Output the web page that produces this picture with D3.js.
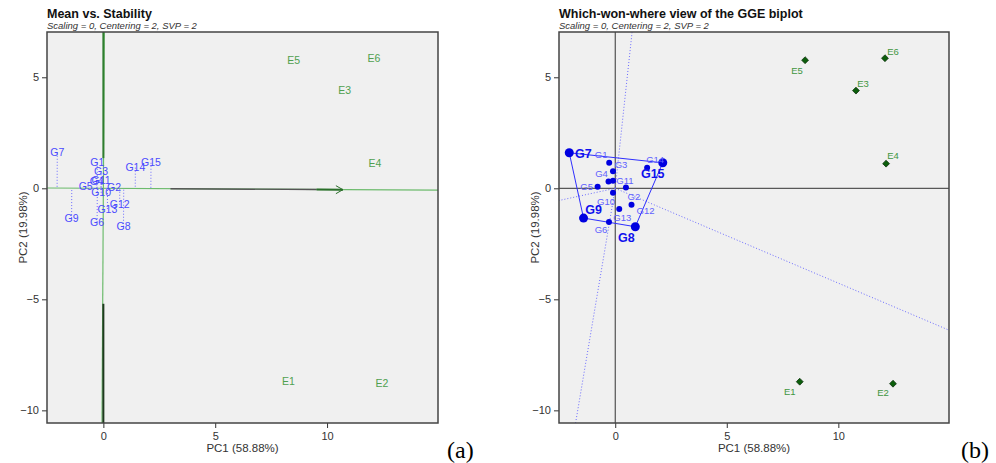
<!DOCTYPE html>
<html>
<head>
<meta charset="utf-8">
<script src="https://cdn.jsdelivr.net/npm/d3@7/dist/d3.min.js"></script>
<style>
body { margin: 0; background: #fff; }
svg text { font-family: "Liberation Sans", Arial, sans-serif; }
</style>
</head>
<body>
<svg id="fig" width="996" height="463"></svg>
<script>
// genotype scores (PC1, PC2)
const genotypes = ['G1','G2','G3','G4','G5','G6','G7','G8','G9','G10','G11','G12','G13','G14','G15'];
const genoPC1 = [-0.27, 0.48, -0.10, -0.30, -0.79, -0.28, -2.06, 0.90, -1.42, -0.10, -0.10, 0.73, 0.18, 1.43, 2.13];
const genoPC2 = [1.15, 0.04, 0.77, 0.31, 0.07, -1.52, 1.60, -1.73, -1.34, -0.20, 0.34, -0.74, -0.93, 0.93, 1.15];

// environment scores (PC1, PC2)
const environments = ['E1','E2','E3','E4','E5','E6'];
const envPC1 = [8.27, 12.45, 10.79, 12.14, 8.51, 12.09];
const envPC2 = [-8.71, -8.80, 4.40, 1.11, 5.77, 5.86];

// vertex genotypes of the which-won-where polygon
const polygonGenotypes = ['G7','G15','G8','G9'];

const xTicks = [0, 5, 10];
const yTicks = [5, 0, -5, -10];
const xDomain = [-2.52, 14.96];
const yDomain = [-10.57, 7.04];

const titles = ['Mean vs. Stability', 'Which-won-where view of the GGE biplot'];
const subtitle = 'Scaling = 0, Centering = 2, SVP = 2';
const xLabel = 'PC1 (58.88%)';
const yLabel = 'PC2 (19.98%)';
const panelTags = ['(a)', '(b)'];

// label placement in panel (b), offsets in px from the point
const genoLabelOffset = {
  G1:[-8,-8], G2:[8,9], G3:[8,-7], G4:[-7,-8], G5:[-11,0], G6:[-8,8], G10:[-7,9],
  G11:[12,0], G12:[14,6], G13:[3,9], G14:[8,-8],
  G7:[14,1], G15:[-10,11], G8:[-9,11], G9:[10,-8]
};
const envLabelOffset = { E1:[-10,10], E2:[-10,9], E3:[7,-7], E4:[7,-8], E5:[-8,10], E6:[8,-7] };

const geno = genotypes.map((g, i) => ({name: g, x: genoPC1[i], y: genoPC2[i]}));
const env = environments.map((e, i) => ({name: e, x: envPC1[i], y: envPC2[i]}));

const svg = d3.select('#fig');

const panels = [
  {left: 47, right: 438, tagX: 447},
  {left: 559, right: 949, tagX: 961}
];
const plotTop = 32, plotBottom = 423;

function drawFrame(p, i) {
  const g = svg.append('g');
  const x = d3.scaleLinear().domain(xDomain).range([p.left, p.right]);
  const y = d3.scaleLinear().domain(yDomain).range([plotBottom, plotTop]);

  g.append('rect')
    .attr('x', p.left).attr('y', plotTop)
    .attr('width', p.right - p.left).attr('height', plotBottom - plotTop)
    .attr('fill', '#f0f0f0');

  svg.append('clipPath').attr('id', 'clip' + i)
    .append('rect')
    .attr('x', p.left).attr('y', plotTop)
    .attr('width', p.right - p.left).attr('height', plotBottom - plotTop);

  const xa = g.append('g')
    .attr('transform', `translate(0,${plotBottom})`)
    .call(d3.axisBottom(x).tickValues(xTicks).tickSize(5).tickSizeOuter(0).tickPadding(4));
  const ya = g.append('g')
    .attr('transform', `translate(${p.left},0)`)
    .call(d3.axisLeft(y).tickValues(yTicks).tickSize(5).tickSizeOuter(0).tickPadding(3));
  [xa, ya].forEach(a => {
    a.select('.domain').remove();
    a.selectAll('line').attr('stroke', '#333');
    a.selectAll('text').attr('font-size', 11).attr('fill', '#333')
      .attr('font-family', '"Liberation Sans", Arial, sans-serif');
  });

  g.append('text')
    .attr('x', p.left).attr('y', 18)
    .attr('font-size', 12.5).attr('font-weight', 'bold').attr('fill', '#111')
    .text(titles[i]);
  g.append('text')
    .attr('x', p.left).attr('y', 29)
    .attr('font-size', 9.5).attr('font-style', 'italic').attr('fill', '#333')
    .text(subtitle);

  g.append('text')
    .attr('x', (p.left + p.right) / 2).attr('y', 452)
    .attr('text-anchor', 'middle').attr('font-size', 11.5).attr('fill', '#333')
    .text(xLabel);
  g.append('text')
    .attr('transform', `translate(${p.left - 20},${(plotTop + plotBottom) / 2}) rotate(-90)`)
    .attr('text-anchor', 'middle').attr('font-size', 11.5).attr('fill', '#333')
    .text(yLabel);

  g.append('text')
    .attr('x', p.tagX).attr('y', 458)
    .attr('font-size', 24).attr('fill', '#000')
    .style('font-family', '"Liberation Serif", "Times New Roman", serif')
    .text(panelTags[i]);

  const plot = g.append('g').attr('clip-path', `url(#clip${i})`);
  return {g, plot, x, y};
}

// ---------- (a) Mean vs. Stability ----------
{
  const {g, plot, x, y} = drawFrame(panels[0], 0);
  const mx = d3.mean(env, d => d.x), my = d3.mean(env, d => d.y);
  const m2 = mx * mx + my * my;
  const far = 100;

  // ATE abscissa and ordinate
  plot.append('line')
    .attr('x1', x(-far * mx)).attr('y1', y(-far * my))
    .attr('x2', x(far * mx)).attr('y2', y(far * my))
    .attr('stroke', '#6dbb6d').attr('stroke-width', 1.2);
  plot.append('line')
    .attr('x1', x(-far * my)).attr('y1', y(far * mx))
    .attr('x2', x(far * my)).attr('y2', y(-far * mx))
    .attr('stroke', '#6dbb6d').attr('stroke-width', 1.2);

  // darker parts of the ordinate
  plot.append('line')
    .attr('x1', x(0)).attr('y1', y(yDomain[1]))
    .attr('x2', x(0)).attr('y2', y(1.36))
    .attr('stroke', '#2f7d2f').attr('stroke-width', 2);
  plot.append('line')
    .attr('x1', x(0)).attr('y1', y(-5.2))
    .attr('x2', x(0)).attr('y2', y(yDomain[0]))
    .attr('stroke', '#1f3a1f').attr('stroke-width', 2);

  // arrow to the average environment
  plot.append('line')
    .attr('x1', x(3)).attr('y1', y(3 * my / mx))
    .attr('x2', x(mx * 0.89)).attr('y2', y(my * 0.89))
    .attr('stroke', '#555').attr('stroke-width', 1.4);
  plot.append('line')
    .attr('x1', x(mx * 0.89)).attr('y1', y(my * 0.89))
    .attr('x2', x(mx)).attr('y2', y(my))
    .attr('stroke', '#2a6e2a').attr('stroke-width', 2);
  const ax = x(mx), ay = y(my);
  plot.append('path')
    .attr('d', `M${ax - 7},${ay - 4}L${ax},${ay}L${ax - 7},${ay + 4}`)
    .attr('fill', 'none').attr('stroke', '#2a6e2a').attr('stroke-width', 1);

  // projections of genotypes onto the abscissa
  plot.selectAll('.proj')
    .data(geno).enter().append('line')
    .attr('x1', d => x(d.x)).attr('y1', d => y(d.y))
    .attr('x2', d => x((d.x * mx + d.y * my) / m2 * mx))
    .attr('y2', d => y((d.x * mx + d.y * my) / m2 * my))
    .attr('stroke', '#6b6bff').attr('stroke-width', 1)
    .attr('stroke-dasharray', '1,2');

  plot.selectAll('.glab')
    .data(geno).enter().append('text')
    .attr('x', d => x(d.x)).attr('y', d => y(d.y))
    .attr('dy', '0.35em').attr('text-anchor', 'middle')
    .attr('font-size', 10.5).attr('fill', '#4a4aff')
    .text(d => d.name);

  plot.selectAll('.elab')
    .data(env).enter().append('text')
    .attr('x', d => x(d.x)).attr('y', d => y(d.y))
    .attr('dy', '0.35em').attr('text-anchor', 'middle')
    .attr('font-size', 10.5).attr('fill', '#4fa04f')
    .text(d => d.name);

  g.append('rect')
    .attr('x', panels[0].left).attr('y', plotTop)
    .attr('width', panels[0].right - panels[0].left).attr('height', plotBottom - plotTop)
    .attr('fill', 'none').attr('stroke', '#444').attr('stroke-width', 1.5);
}

// ---------- (b) Which-won-where ----------
{
  const {g, plot, x, y} = drawFrame(panels[1], 1);
  const far = 100;

  // axes through the origin
  plot.append('line')
    .attr('x1', x(xDomain[0])).attr('x2', x(xDomain[1]))
    .attr('y1', y(0)).attr('y2', y(0))
    .attr('stroke', '#333').attr('stroke-width', 1);
  plot.append('line')
    .attr('x1', x(0)).attr('x2', x(0))
    .attr('y1', y(yDomain[0])).attr('y2', y(yDomain[1]))
    .attr('stroke', '#333').attr('stroke-width', 1);

  const byName = Object.fromEntries(geno.map(d => [d.name, d]));
  const verts = polygonGenotypes.map(n => byName[n]);

  // rays from the origin perpendicular to each polygon side
  const rays = verts.map((a, k) => {
    const b = verts[(k + 1) % verts.length];
    const dx = b.x - a.x, dy = b.y - a.y;
    const t = -(a.x * dx + a.y * dy) / (dx * dx + dy * dy);
    return {x: a.x + t * dx, y: a.y + t * dy};
  });
  plot.selectAll('.ray')
    .data(rays).enter().append('line')
    .attr('x1', x(0)).attr('y1', y(0))
    .attr('x2', d => x(d.x * far)).attr('y2', d => y(d.y * far))
    .attr('stroke', '#6b6bff').attr('stroke-width', 1)
    .attr('stroke-dasharray', '1,2');

  plot.append('path')
    .datum(verts)
    .attr('d', d3.line().x(d => x(d.x)).y(d => y(d.y)).curve(d3.curveLinearClosed))
    .attr('fill', 'none').attr('stroke', '#2f2fff').attr('stroke-width', 1);

  const isVertex = d => polygonGenotypes.includes(d.name);

  plot.selectAll('.gdot')
    .data(geno).enter().append('circle')
    .attr('cx', d => x(d.x)).attr('cy', d => y(d.y))
    .attr('r', d => isVertex(d) ? 4.5 : 3)
    .attr('fill', '#0000e0');

  plot.selectAll('.glab')
    .data(geno.filter(d => !isVertex(d))).enter().append('text')
    .attr('x', d => x(d.x) + genoLabelOffset[d.name][0])
    .attr('y', d => y(d.y) + genoLabelOffset[d.name][1])
    .attr('dy', '0.35em').attr('text-anchor', 'middle')
    .attr('font-size', 9.5).attr('fill', '#6060ff')
    .text(d => d.name);

  plot.selectAll('.vlab')
    .data(geno.filter(isVertex)).enter().append('text')
    .attr('x', d => x(d.x) + genoLabelOffset[d.name][0])
    .attr('y', d => y(d.y) + genoLabelOffset[d.name][1])
    .attr('dy', '0.35em').attr('text-anchor', 'middle')
    .attr('font-size', 12.5).attr('font-weight', 'bold').attr('fill', '#1010ee')
    .text(d => d.name);

  plot.selectAll('.edot')
    .data(env).enter().append('path')
    .attr('transform', d => `translate(${x(d.x)},${y(d.y)})`)
    .attr('d', d3.symbol(d3.symbolDiamond2, 30))
    .attr('fill', '#0b5e0b').attr('stroke', '#113311').attr('stroke-width', 0.8);

  plot.selectAll('.elab')
    .data(env).enter().append('text')
    .attr('x', d => x(d.x) + envLabelOffset[d.name][0])
    .attr('y', d => y(d.y) + envLabelOffset[d.name][1])
    .attr('dy', '0.35em').attr('text-anchor', 'middle')
    .attr('font-size', 9.5).attr('fill', '#3f963f')
    .text(d => d.name);

  g.append('rect')
    .attr('x', panels[1].left).attr('y', plotTop)
    .attr('width', panels[1].right - panels[1].left).attr('height', plotBottom - plotTop)
    .attr('fill', 'none').attr('stroke', '#444').attr('stroke-width', 1.5);
}
</script>
</body>
</html>
